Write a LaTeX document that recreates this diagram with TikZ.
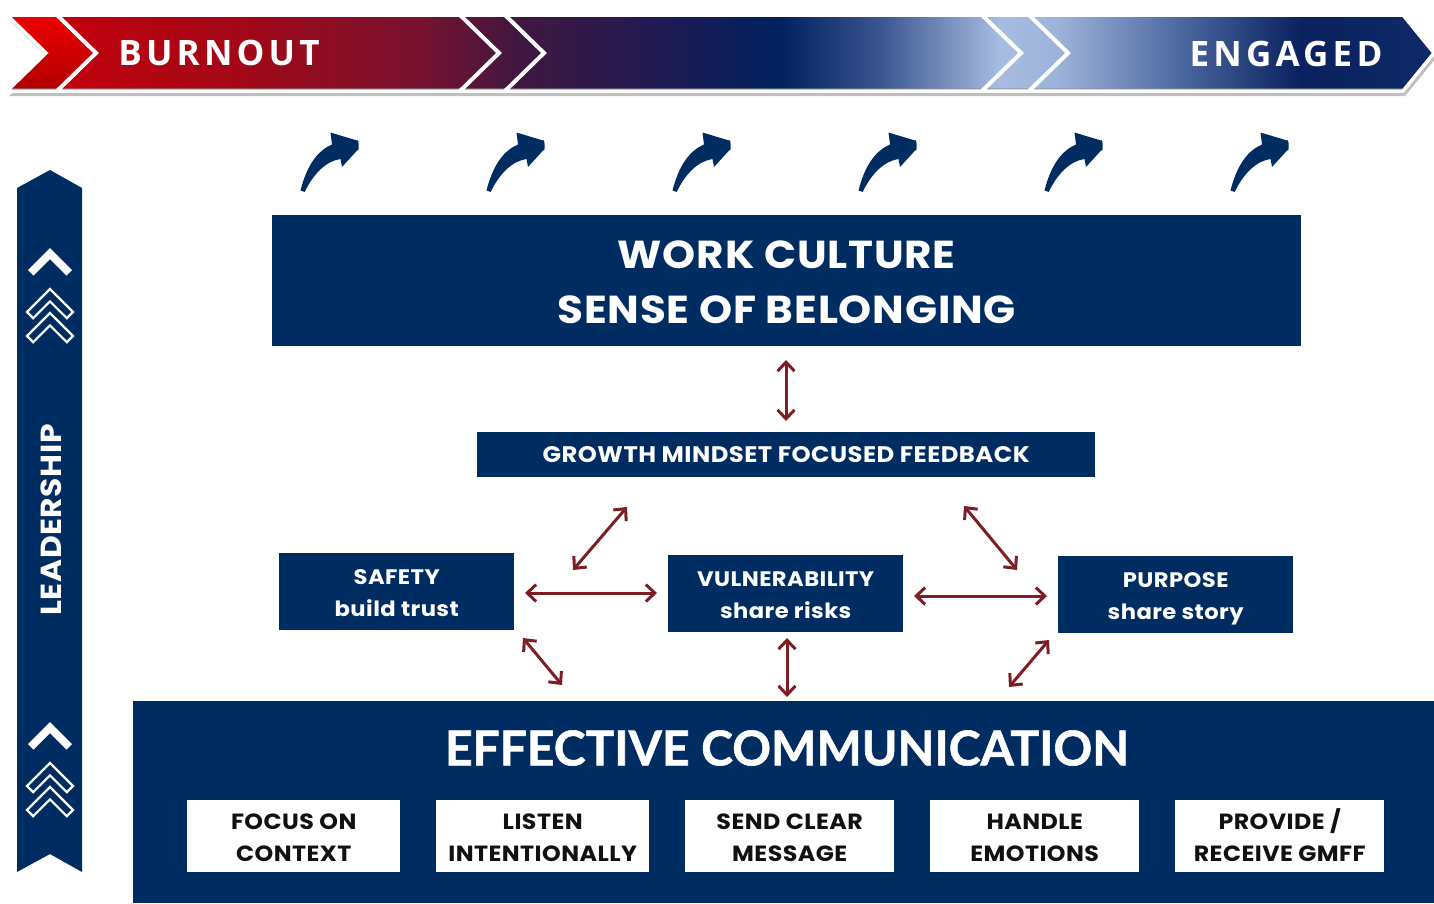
\documentclass[tikz,border=0pt]{standalone}
\usepackage{fontspec}
\usetikzlibrary{arrows.meta}
\newfontfamily\boxfont{Poppins}[FakeStretch=1.08, LetterSpace=2]
\newfontfamily\bannerfont{Open Sans}[LetterSpace=12]
\newfontfamily\headfont{Lato}[FakeBold=1.2]
\definecolor{navy}{RGB}{0,45,97}
\definecolor{arrowred}{RGB}{125,30,36}
\definecolor{inkblack}{RGB}{17,17,17}
% banner gradient stops
\definecolor{g0}{HTML}{C4000C}
\definecolor{g1}{HTML}{A00818}
\definecolor{g2}{HTML}{781230}
\definecolor{g3}{HTML}{3F1740}
\definecolor{g4}{HTML}{221A52}
\definecolor{g5}{HTML}{00205E}
\definecolor{g6}{HTML}{3A5590}
\definecolor{g7}{HTML}{A7BCE0}
\definecolor{g8}{HTML}{9DB2D9}
\definecolor{g9}{HTML}{4C68A0}
\definecolor{g10}{HTML}{0A225F}
\definecolor{g11}{HTML}{0E2A66}

% first-line strut, a little taller than \strut so the two lines sit lower in the box
\newcommand\firstline{\rule{0pt}{27.4pt}}

\tikzset{
  navybox/.style={fill=navy, text=white, align=center, anchor=north west, inner sep=0pt},
  whitebox/.style={fill=white, text=inkblack, align=center, anchor=north west, inner sep=0pt,
    font=\boxfont\bfseries\fontsize{22}{32}\selectfont, minimum height=72pt},
  midbox/.style={navybox, minimum width=235pt, minimum height=77pt,
    font=\boxfont\bfseries\fontsize{21}{32}\selectfont},
  redarrow/.style={draw=arrowred, line width=3pt,
    {Straight Barb[length=9pt,width=17pt]}-{Straight Barb[length=9pt,width=17pt]}},
  chevline/.style={draw=white, line width=4pt, line join=miter},
  curvarrow/.pic={
    \fill[navy] (50.5,15.5) -- (77,23.5) to[out=60,in=-60] (77.5,33) -- (62,50) -- (60.5,42)
      .. controls (45.9,44.2) and (33.6,56.5) .. (24.7,74.9) -- (20.5,73.5)
      .. controls (26.5,49.5) and (37.1,33.6) .. (52,27.6) -- cycle;
  },
  solidchev/.pic={
    \fill[white] (0,0) -- (22,22) -- (16.5,27.5) -- (0,11) -- (-16.5,27.5) -- (-22,22) -- cycle;
  },
  openchev/.pic={
    \draw[white, line width=2.2pt, line join=miter]
      (0,0) -- (23,23) -- (16.8,29.2) -- (0,12.4) -- (-16.8,29.2) -- (-23,23) -- cycle;
  }
}

\begin{document}
\begin{tikzpicture}[x=1pt, y=-1pt]
\useasboundingbox (0,0) rectangle (1434,903);

% ---------- banner ----------
\def\bannershape{(7,15) -- (1403,15) -- (1434,53) -- (1403,91) -- (7,91) -- (46,53) -- cycle}
\fill[black!25, xshift=2pt, yshift=-5pt] \bannershape;
\begin{scope}
  \clip \bannershape;
  \fill[left color=g0, right color=g1] (50,10) rectangle (250,100);
  \fill[left color=g1, right color=g2] (249.5,10) rectangle (420,100);
  \fill[left color=g2, right color=g3] (419.5,10) rectangle (520,100);
  \fill[left color=g3, right color=g4] (519.5,10) rectangle (650,100);
  \fill[left color=g4, right color=g5] (649.5,10) rectangle (780,100);
  \fill[left color=g5, right color=g6] (779.5,10) rectangle (880,100);
  \fill[left color=g6, right color=g7] (879.5,10) rectangle (1000,100);
  \fill[left color=g7, right color=g8] (999.5,10) rectangle (1060,100);
  \fill[left color=g8, right color=g9] (1059.5,10) rectangle (1180,100);
  \fill[left color=g9, right color=g10] (1179.5,10) rectangle (1300,100);
  \fill[left color=g10, right color=g11] (1299.5,10) rectangle (1440,100);
  % left red chevron piece
  \fill[top color=red!95!black, bottom color=red!65!black]
    (0,10) -- (57,10) -- (57,15) -- (96,53) -- (57,91) -- (57,100) -- (0,100) -- cycle;
  \fill[black!45, opacity=0.5] (0,88) rectangle (1440,91);
\end{scope}
\draw[chevline] (57,15) -- (96,53) -- (57,91);
\draw[chevline] (460,15) -- (499,53) -- (460,91);
\draw[chevline] (505,15) -- (544,53) -- (505,91);
\draw[chevline] (982,15) -- (1021,53) -- (982,91);
\draw[chevline] (1029,15) -- (1068,53) -- (1029,91);
\draw[white, line width=3.5pt, line join=miter] \bannershape;

\node[font=\bannerfont\bfseries\fontsize{35}{35}\selectfont, text=white] (burnout) at (219,53) {BURNOUT};
\node[font=\bannerfont\bfseries\fontsize{35}{35}\selectfont, text=white] (engaged) at (1286,54) {ENGAGED};

% ---------- rising arrows ----------
\foreach \k in {0,...,5} {
  \pic at (280+186*\k,117) {curvarrow};
}

% ---------- leadership bar ----------
\fill[navy] (17,188) -- (50,170) -- (82,188) -- (82,872) -- (50,854) -- (17,872) -- cycle;
\pic at (50,248) {solidchev};
\pic at (50,289) {openchev};
\pic at (50,313) {openchev};
\pic at (50,722) {solidchev};
\pic at (50,763) {openchev};
\pic at (50,787) {openchev};
\node[rotate=90, text=white, font=\boxfont\bfseries\fontsize{29}{29}\selectfont] (lead) at (51,520) {LEADERSHIP};

% ---------- central boxes ----------
\node[navybox, minimum width=1029pt, minimum height=131pt, text depth=8pt,
  font=\boxfont\bfseries\fontsize{39}{55}\selectfont] (wc) at (272,215)
  {\strut WORK CULTURE\\\strut SENSE OF BELONGING};
\node[navybox, minimum width=618pt, minimum height=45pt,
  font=\boxfont\bfseries\fontsize{22.5}{22.5}\selectfont] (gm) at (477,432)
  {GROWTH MINDSET FOCUSED FEEDBACK};
\node[midbox] (safety) at (279,553) {\firstline SAFETY\\\strut build trust};
\node[midbox] (vuln) at (668,555) {\firstline VULNERABILITY\\\strut share risks};
\node[midbox] (purpose) at (1058,556) {\firstline PURPOSE\\\strut share story};

% ---------- effective communication ----------
\node[navybox, minimum width=1301pt, minimum height=202pt] (ec) at (133,701) {};
\node[text=white, font=\headfont\bfseries\fontsize{48}{48}\selectfont] (ectitle) at (787,748)
  {EFFECTIVE COMMUNICATION};
\node[whitebox, minimum width=213pt] (w1) at (187,800) {\firstline FOCUS ON\\\strut CONTEXT};
\node[whitebox, minimum width=213pt] (w2) at (436,800) {\firstline LISTEN\\\strut INTENTIONALLY};
\node[whitebox, minimum width=209pt] (w3) at (685,800) {\firstline SEND CLEAR\\\strut MESSAGE};
\node[whitebox, minimum width=209pt] (w4) at (930,800) {\firstline HANDLE\\\strut EMOTIONS};
\node[whitebox, minimum width=209pt] (w5) at (1175,800) {\firstline PROVIDE /\\\strut RECEIVE GMFF};

% ---------- red connectors ----------
\coordinate (a1s) at (786,360);  \coordinate (a1e) at (786,421);
\coordinate (a2s) at (573,570);  \coordinate (a2e) at (627,507);
\coordinate (a3s) at (964,506);  \coordinate (a3e) at (1017,570);
\coordinate (a4s) at (525,593);  \coordinate (a4e) at (657,593);
\coordinate (a5s) at (914,596);  \coordinate (a5e) at (1047,596);
\coordinate (a6s) at (523,638);  \coordinate (a6e) at (562,685);
\coordinate (a7s) at (787,638);  \coordinate (a7e) at (787,697);
\coordinate (a8s) at (1049,640); \coordinate (a8e) at (1009,687);
\foreach \i in {1,...,8} {
  \draw[redarrow] (a\i s) -- (a\i e);
}
\end{tikzpicture}
\end{document}
